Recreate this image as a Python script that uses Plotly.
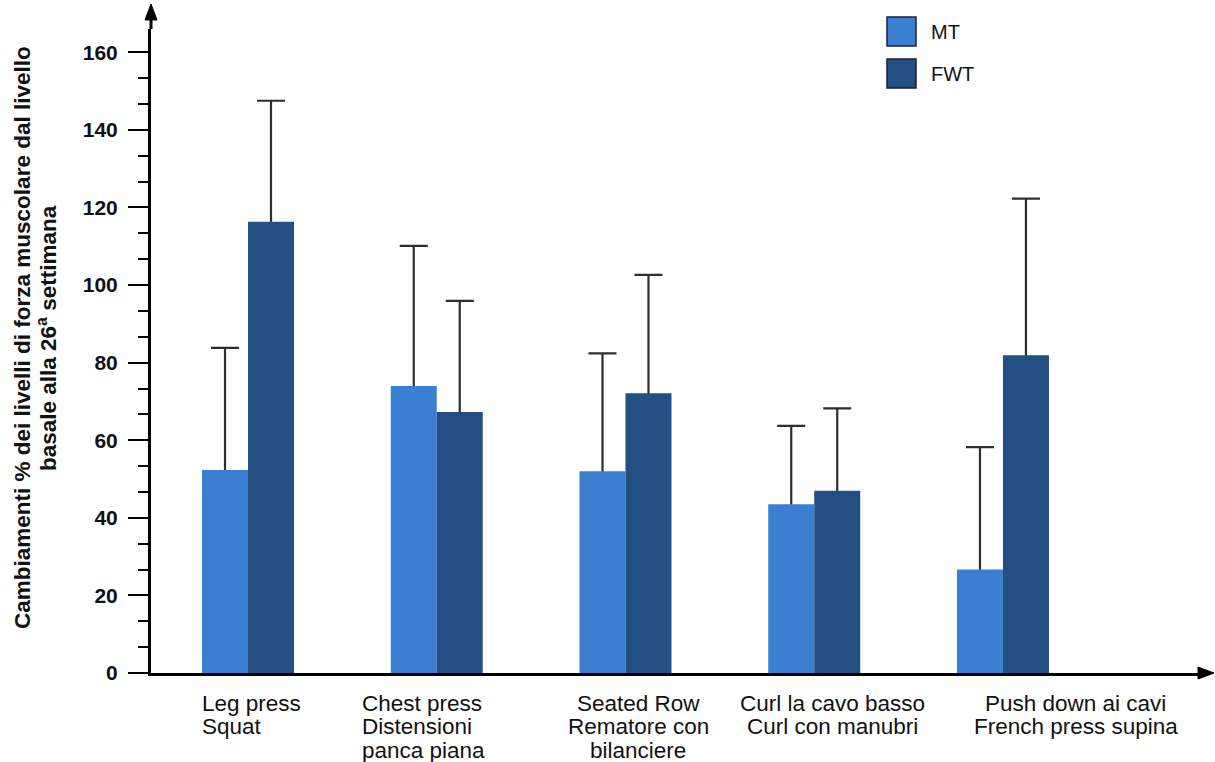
import plotly.graph_objects as go

# Strength change (%) from baseline at week 26, per exercise pair
categories = ["Leg press / Squat", "Chest press / Distensioni", "Seated Row / Rematore",
              "Curl cavo / Curl manubri", "Push down / French press"]
label_lines = [
    ["Leg press", "Squat"],
    ["Chest press", "Distensioni", "panca piana"],
    ["Seated Row", "Rematore con", "bilanciere"],
    ["Curl la cavo basso", "Curl con manubri"],
    ["Push down ai cavi", "French press supina"],
]
mt_values = [52.3, 74.0, 52.0, 43.5, 26.7]
mt_errors = [31.5, 36.1, 30.4, 20.2, 31.5]
fwt_values = [116.3, 67.3, 72.1, 47.0, 81.9]
fwt_errors = [31.2, 28.6, 30.5, 21.2, 40.4]
series_names = ["MT", "FWT"]
y_tick_values = [0, 20, 40, 60, 80, 100, 120, 140, 160]

MT_COLOR = "#3a7fd2"
FWT_COLOR = "#234f82"
ERR_COLOR = "#2e2e2e"
FONT = "Liberation Sans, Arial"

W, H = 1215, 762
PL, PR, PT, PB = 151, 1200, 29, 673

# the whisker base is tucked just under the bar top so the filled bar hides it
TUCK = 0.7


def px_x(px):
    return (px - PL) / (PR - PL)


def px_y(py):
    return (PB - py) / (PB - PT)


fig = go.Figure()

# whiskers on transparent bars drawn first; the filled bars are drawn over their base
for name, vals, errs in [("MT", mt_values, mt_errors), ("FWT", fwt_values, fwt_errors)]:
    fig.add_trace(go.Bar(
        x=categories, y=[v - TUCK for v in vals], offsetgroup=name,
        showlegend=False, hoverinfo="skip",
        marker=dict(color="rgba(0,0,0,0)", line=dict(width=0)),
        error_y=dict(type="data", symmetric=False, array=[e + TUCK for e in errs],
                     arrayminus=[0] * len(errs), color=ERR_COLOR,
                     thickness=2.2, width=14),
    ))

for name, vals, color in [("MT", mt_values, MT_COLOR), ("FWT", fwt_values, FWT_COLOR)]:
    fig.add_trace(go.Bar(
        x=categories, y=vals, name=name, offsetgroup=name, showlegend=False,
        marker=dict(color=color, line=dict(width=0)),
    ))

annotations = []

# category labels, one annotation per line
label_specs = [
    ("left", -48),
    ("left", -77),
    ("center", 13),
    ("center", 18),
    ("center", 73),
]
for cat, lines, (anchor, shift) in zip(categories, label_lines, label_specs):
    for j, line in enumerate(lines):
        annotations.append(dict(
            x=cat, xref="x", y=px_y(703 + 23.5 * j), yref="paper",
            text=line, showarrow=False, xanchor=anchor, yanchor="middle",
            xshift=shift, font=dict(family=FONT, size=22.5, color="#111111"),
        ))

# y-axis title (two lines)
title_lines = ["Cambiamenti % dei livelli di forza muscolare dal livello",
               "basale alla 26<sup>a</sup> settimana"]
for j, line in enumerate(title_lines):
    annotations.append(dict(
        x=px_x(22 + 25 * j), xref="paper", y=px_y(338), yref="paper",
        text="<b>" + line + "</b>", showarrow=False, textangle=-90,
        xanchor="center", yanchor="middle",
        font=dict(family=FONT, size=22.5, color="#111111"),
    ))

shapes = []

# axis extensions and arrow heads
shapes.append(dict(type="line", xref="paper", yref="paper",
                   x0=px_x(151), x1=px_x(151), y0=px_y(PT), y1=px_y(14),
                   line=dict(color="black", width=3)))
shapes.append(dict(type="path", xref="paper", yref="paper",
                   path="M {:.5f},{:.5f} L {:.5f},{:.5f} L {:.5f},{:.5f} Z".format(
                       px_x(151), px_y(4), px_x(145), px_y(20), px_x(157), px_y(20)),
                   fillcolor="black", line=dict(color="black", width=1)))
shapes.append(dict(type="line", xref="paper", yref="paper",
                   x0=px_x(PR), x1=px_x(1204), y0=px_y(PB), y1=px_y(PB),
                   line=dict(color="black", width=3)))
shapes.append(dict(type="path", xref="paper", yref="paper",
                   path="M {:.5f},{:.5f} L {:.5f},{:.5f} L {:.5f},{:.5f} Z".format(
                       px_x(1214), px_y(673), px_x(1198), px_y(667), px_x(1198), px_y(679)),
                   fillcolor="black", line=dict(color="black", width=1)))

# legend
for j, (name, color) in enumerate(zip(series_names, [MT_COLOR, FWT_COLOR])):
    top = 17 + 42 * j
    shapes.append(dict(
        type="rect", xref="paper", yref="paper",
        x0=px_x(887), x1=px_x(916), y0=px_y(top + 29), y1=px_y(top),
        fillcolor=color, line=dict(color="#1b2233", width=1.5),
    ))
    annotations.append(dict(
        x=px_x(929), y=px_y(top + 15), xref="paper", yref="paper",
        text=name, showarrow=False, xanchor="left", yanchor="middle",
        font=dict(family=FONT, size=20, color="#111111"),
    ))

fig.update_layout(
    width=W, height=H,
    margin=dict(l=PL, r=W - PR, t=PT, b=H - PB, pad=0),
    paper_bgcolor="white", plot_bgcolor="white",
    barmode="group", bargap=0.5126, bargroupgap=0,
    showlegend=False,
    annotations=annotations, shapes=shapes,
    font=dict(family=FONT, color="#111111"),
)

fig.update_xaxes(
    type="category", range=[-0.514, 5.044],
    showline=True, linecolor="black", linewidth=3,
    showticklabels=False, ticks="", showgrid=False, zeroline=False,
)

fig.update_yaxes(
    range=[0, 166], tickmode="array", tickvals=y_tick_values,
    ticktext=[str(v) for v in y_tick_values],
    showline=True, linecolor="black", linewidth=3,
    ticks="outside", ticklen=20, tickwidth=2, tickcolor="black",
    minor=dict(dtick=20 / 3, tick0=0, ticks="outside", ticklen=10,
               tickwidth=2, tickcolor="black", showgrid=False),
    tickfont=dict(family=FONT, size=21, color="#111111", weight="bold"),
    ticklabelstandoff=6,
    showgrid=False, zeroline=False,
)

fig.write_html("out.html")
